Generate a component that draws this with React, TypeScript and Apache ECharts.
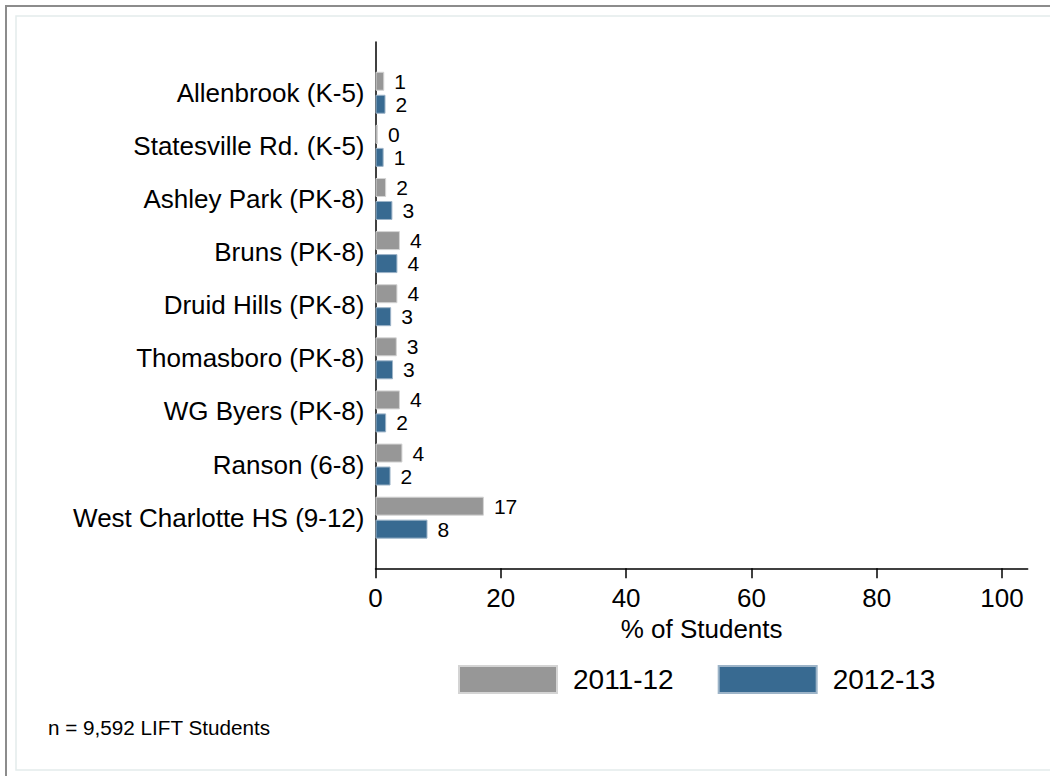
import React, { useEffect, useRef } from "react";
import * as echarts from "echarts";

const CATEGORIES = [
  "Allenbrook (K-5)",
  "Statesville Rd. (K-5)",
  "Ashley Park (PK-8)",
  "Bruns (PK-8)",
  "Druid Hills (PK-8)",
  "Thomasboro (PK-8)",
  "WG Byers (PK-8)",
  "Ranson (6-8)",
  "West Charlotte HS (9-12)",
];
const SERIES_NAMES = ["2011-12", "2012-13"];
const VALUES_2011 = [1.4, 0.4, 1.7, 3.9, 3.5, 3.4, 3.9, 4.3, 17.3];
const VALUES_2012 = [1.6, 1.3, 2.7, 3.5, 2.5, 2.8, 1.7, 2.4, 8.3];
const X_TICKS = [0, 20, 40, 60, 80, 100];
const X_MAX = 104.1;
const X_TITLE = "% of Students";
const NOTE = "n = 9,592 LIFT Students";

const FONT = "'Liberation Sans', Arial, Helvetica, sans-serif";
const GRAY = "#979797";
const BLUE = "#386a91";

export default function App() {
  const ref = useRef<HTMLDivElement>(null);
  useEffect(() => {
    if (!ref.current) return;
    const chart = echarts.init(ref.current, undefined, { renderer: "svg" });
    const label = {
      show: true,
      position: "right",
      distance: 10,
      fontSize: 21,
      color: "#000",
      fontFamily: FONT,
      formatter: (p: any) => String(Math.round(p.value)),
    };
    chart.setOption({
      animation: false,
      backgroundColor: "#ffffff",
      textStyle: { fontFamily: FONT },
      grid: [
        { left: 375.5, top: 42, width: 652.2, height: 526.3 },
        { left: 375.5, top: 66.2, width: 652.2, height: 478 },
      ],
      xAxis: [
        {
          gridIndex: 0,
          type: "value",
          min: 0,
          max: X_MAX,
          axisLine: { show: true, lineStyle: { color: "#000", width: 1.5 } },
          axisTick: {
            show: true,
            length: 10,
            customValues: X_TICKS,
            lineStyle: { color: "#000", width: 1.5 },
          },
          axisLabel: {
            customValues: X_TICKS,
            fontSize: 26,
            color: "#000",
            margin: 17,
            fontFamily: FONT,
          },
          splitLine: { show: false },
          name: X_TITLE,
          nameLocation: "middle",
          nameGap: 42,
          nameTextStyle: { fontSize: 26, color: "#000", fontFamily: FONT },
        },
        { gridIndex: 1, type: "value", min: 0, max: X_MAX, show: false },
      ],
      yAxis: [
        {
          gridIndex: 0,
          type: "value",
          min: 0,
          max: 1,
          axisLine: { show: true, lineStyle: { color: "#000", width: 1.5 } },
          axisTick: { show: false },
          axisLabel: { show: false },
          splitLine: { show: false },
        },
        {
          gridIndex: 1,
          type: "category",
          data: CATEGORIES,
          inverse: true,
          axisLine: { show: false },
          axisTick: { show: false },
          axisLabel: { fontSize: 26, color: "#000", margin: 11, fontFamily: FONT },
        },
      ],
      legend: {
        left: 458,
        top: 665,
        padding: 0,
        itemWidth: 98,
        itemHeight: 27,
        itemGap: 44,
        icon: "rect",
        data: SERIES_NAMES,
        textStyle: { fontSize: 28, color: "#000", fontFamily: FONT, padding: [0, 0, 0, 11] },
      },
      series: [
        {
          name: SERIES_NAMES[0],
          type: "bar",
          xAxisIndex: 1,
          yAxisIndex: 1,
          data: VALUES_2011,
          barWidth: 19,
          barGap: "21%",
          itemStyle: { color: GRAY, borderColor: "#d4d4d4", borderWidth: 1 },
          label,
        },
        {
          name: SERIES_NAMES[1],
          type: "bar",
          xAxisIndex: 1,
          yAxisIndex: 1,
          data: VALUES_2012,
          barWidth: 19,
          barGap: "21%",
          itemStyle: { color: BLUE, borderColor: "#9db4c8", borderWidth: 1 },
          label,
        },
      ],
      graphic: [
        {
          type: "rect",
          silent: true,
          shape: { x: 6, y: 6, width: 1200, height: 900 },
          style: { fill: "none", stroke: "#8c8c8c", lineWidth: 2 },
        },
        {
          type: "rect",
          silent: true,
          shape: { x: 16, y: 16, width: 1200, height: 754 },
          style: { fill: "none", stroke: "#e3ecec", lineWidth: 1.5 },
        },
        {
          type: "text",
          left: 48,
          top: 717,
          style: { text: NOTE, fontSize: 20.7, fill: "#000", fontFamily: FONT },
        },
      ],
    });
    return () => chart.dispose();
  }, []);
  return (
    <div
      ref={ref}
      style={{ position: "fixed", left: 0, top: 0, width: 1050, height: 776 }}
    />
  );
}
